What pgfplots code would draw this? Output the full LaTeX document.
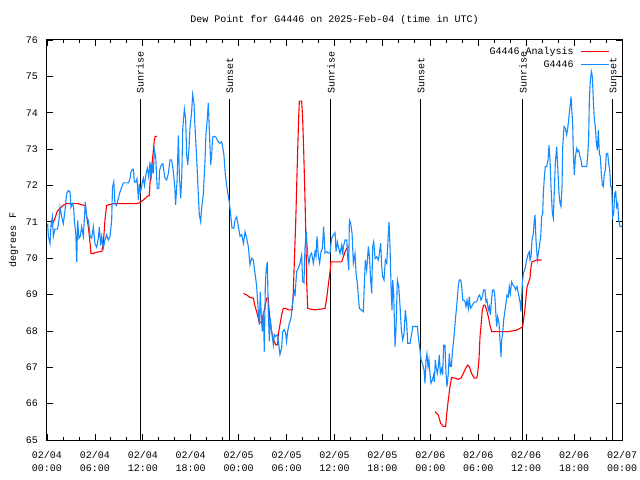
\documentclass[border=0pt]{standalone}
\usepackage{pgfplots}
\pgfplotsset{compat=1.18}
\usepackage{fontspec}
\setmainfont{Liberation Mono}
\usetikzlibrary{calc}
\definecolor{obsblue}{RGB}{20,138,255}
\definecolor{anared}{RGB}{255,0,0}
\newcommand{\gf}{\fontsize{10.04}{12}\selectfont}
\begin{document}
\begin{tikzpicture}
\begin{axis}[
  scale only axis, width=575bp, height=400bp,
  xmin=0, xmax=72, ymin=65, ymax=76,
  xtick={0,6,...,72},
  xticklabels={{02/04\\00:00},{02/04\\06:00},{02/04\\12:00},{02/04\\18:00},{02/05\\00:00},{02/05\\06:00},{02/05\\12:00},{02/05\\18:00},{02/06\\00:00},{02/06\\06:00},{02/06\\12:00},{02/06\\18:00},{02/07\\00:00}},
  minor x tick num=2,
  ytick={65,66,...,76},
  tick align=inside,
  major tick length=6bp, minor tick length=3bp,
  axis line style={line width=1bp, black},
  every tick/.style={black, line width=0.8bp},
  /pgf/number format/assume math mode=true,
  tick label style={font=\gf},
  xticklabel style={align=center, font=\fontsize{10.04}{13.5}\selectfont, inner sep=0pt, yshift=-11bp},
  yticklabel style={inner sep=0pt, xshift=-9bp},
  title={Dew Point for G4446 on 2025-Feb-04 (time in UTC)},
  title style={font=\gf, at={(rel axis cs:0.5,1)}, anchor=base, yshift=12bp},
  ylabel={degrees F},
  ylabel style={font=\gf},
  ylabel shift=4bp,
  legend style={at={(rel axis cs:1,1)}, anchor=north east, xshift=-12bp, yshift=-6bp,
    draw=none, fill=none, inner sep=0pt, font=\gf, row sep=3bp,
    nodes={inner sep=0pt, text height=8bp, text depth=2bp}},
  legend cell align=right, legend plot pos=right,
  legend image code/.code={\path (0bp,0bp); \draw[#1] (7bp,0bp) -- (35bp,0bp);},
  unbounded coords=jump,
]
% sunrise / sunset markers
\addplot[black, line width=1bp, forget plot] coordinates {(11.65,65) (11.65,74.38)};
\addplot[black, line width=1bp, forget plot] coordinates {(22.9,65) (22.9,74.38)};
\addplot[black, line width=1bp, forget plot] coordinates {(35.56,65) (35.56,74.38)};
\addplot[black, line width=1bp, forget plot] coordinates {(46.83,65) (46.83,74.38)};
\addplot[black, line width=1bp, forget plot] coordinates {(59.6,65) (59.6,74.38)};
\addplot[black, line width=1bp, forget plot] coordinates {(70.87,65) (70.87,74.38)};
\node[rotate=90, anchor=west, inner sep=0pt, font=\gf] at (axis cs:11.65,74.52) {Sunrise};
\node[rotate=90, anchor=west, inner sep=0pt, font=\gf] at (axis cs:22.9,74.52) {Sunset};
\node[rotate=90, anchor=west, inner sep=0pt, font=\gf] at (axis cs:35.56,74.52) {Sunrise};
\node[rotate=90, anchor=west, inner sep=0pt, font=\gf] at (axis cs:46.83,74.52) {Sunset};
\node[rotate=90, anchor=west, inner sep=0pt, font=\gf] at (axis cs:59.6,74.52) {Sunrise};
\node[rotate=90, anchor=west, inner sep=0pt, font=\gf] at (axis cs:70.87,74.52) {Sunset};

% analysis
\addplot[anared, line width=1.1bp] coordinates {
(0.58,70.86)(0.7,70.95)(1.0,71.1)(1.3,71.3)(1.8,71.4)(2.0,71.45)(2.46,71.5)(3.92,71.5)(4.3,71.47)(4.76,71.45)(4.97,71.14)(5.18,70.86)(5.4,70.4)(5.5,70.13)(5.85,70.13)(6.0,70.15)(6.6,70.18)(6.85,70.18)(7.05,70.4)(7.26,71.05)(7.46,71.45)(8.3,71.5)(11.23,71.5)(11.65,71.53)(12.06,71.6)(12.57,71.7)(12.8,71.72)(12.9,72.06)(13.03,72.33)(13.2,72.7)(13.32,72.97)(13.44,73.25)(13.55,73.35)(13.8,73.35)
(20,nan)
(24.6,69.03)(25.0,68.99)(25.42,68.92)(25.84,68.9)(26.0,68.72)(26.25,68.53)(26.55,68.26)(26.85,68.22)(27.17,68.53)(27.5,68.9)(27.7,68.9)(27.92,68.26)(28.2,67.9)(28.46,67.71)(28.63,67.62)(28.88,67.62)(28.96,67.9)(29.17,68.17)(29.38,68.44)(29.59,68.62)(29.9,68.62)(30.22,68.58)(30.72,68.58)(30.84,69.04)(30.97,69.9)(31.14,70.96)(31.26,71.93)(31.39,72.98)(31.51,73.85)(31.6,74.32)(31.89,74.32)(32.01,73.85)(32.14,72.98)(32.27,71.93)(32.39,70.87)(32.52,69.32)(32.64,68.62)(33.0,68.6)(33.56,68.58)(34.31,68.6)(34.81,68.62)(35.02,68.9)(35.23,69.27)(35.44,69.63)(35.56,69.9)(36.9,69.9)(37.11,70.04)(37.32,70.18)(37.53,70.27)(37.74,70.32)
(43,nan)
(48.58,65.78)(49.0,65.69)(49.29,65.46)(49.63,65.37)(49.92,65.37)(50.04,65.69)(50.25,66.1)(50.46,66.47)(50.67,66.72)(51.09,66.7)(51.5,66.67)(51.84,66.7)(52.13,66.83)(52.42,66.97)(52.67,67.06)(52.88,67.02)(53.17,66.83)(53.51,66.7)(53.8,66.7)(53.92,66.83)(54.09,67.2)(54.22,67.84)(54.34,68.12)(54.51,68.57)(54.68,68.71)(54.84,68.71)(55.05,68.57)(55.26,68.39)(55.47,68.16)(55.68,67.98)(57.77,67.98)(58.8,68.02)(59.23,68.07)(59.56,68.12)(59.8,68.5)(60.1,69.2)(60.48,69.45)(60.6,69.75)(60.73,69.9)(61.32,69.95)(61.94,69.95)
};
\addlegendentry{G4446 Analysis}

% observations
\addplot[obsblue, line width=1.1bp] coordinates {
(0.08,70.95)(0.17,70.6)(0.38,70.4)(0.5,70.9)(0.67,71.14)(0.8,70.6)(1.0,70.8)(1.33,70.8)(1.5,71.05)(1.63,71.4)(1.84,71.14)(2.04,70.95)(2.25,71.3)(2.46,71.77)(2.67,71.86)(2.88,71.82)(3.0,71.4)(3.17,71.5)(3.34,71.4)(3.42,71.04)(3.6,70.7)(3.72,69.9)(3.84,71.04)(4.0,70.55)(4.17,70.6)(4.34,70.86)(4.55,70.6)(4.67,71.04)(4.8,71.55)(4.97,71.14)(5.18,71.04)(5.4,70.6)(5.6,70.55)(5.8,70.86)(6.0,70.4)(6.22,70.3)(6.43,70.55)(6.55,70.86)(6.72,70.35)(6.85,70.6)(7.05,70.27)(7.26,70.5)(7.47,70.64)(7.68,70.5)(7.9,70.6)(8.1,71.05)(8.2,71.95)(8.37,72.1)(8.5,71.5)(8.7,71.45)(8.93,71.64)(9.14,71.82)(9.35,71.95)(9.56,72.07)(10.0,72.07)(10.2,72.07)(10.4,72.18)(10.5,72.36)(10.68,72.45)(10.81,72.45)(10.94,72.09)(11.1,72.09)(11.27,72.18)(11.45,71.6)(11.56,72.05)(11.69,71.82)
(11.77,71.87)(11.9,72.05)(12.06,72.2)(12.2,72.0)(12.4,72.33)(12.57,72.47)(12.74,72.24)(12.9,72.65)(13.03,72.15)(13.15,72.6)(13.3,72.33)(13.45,72.97)(13.62,72.75)(13.8,71.92)(14.0,71.92)(14.1,72.42)(14.3,72.56)(14.5,72.6)(14.77,72.2)(14.98,72.15)(15.2,72.33)(15.4,72.7)(15.6,72.7)(15.8,72.42)(16.0,71.96)(16.1,71.47)(16.28,72.1)(16.45,73.38)(16.57,72.3)(16.74,71.65)(16.87,72.2)(17.0,73.56)(17.2,74.1)(17.36,73.84)(17.49,72.85)(17.62,72.57)(17.78,73.02)(17.9,73.56)(18.1,74.0)(18.24,74.5)(18.4,74.27)(18.5,73.75)(18.74,72.75)(18.95,71.74)(19.07,71.2)(19.24,71.0)(19.36,71.38)(19.57,71.74)(19.78,72.65)(19.9,73.38)(20.07,73.84)(20.2,74.27)(20.32,73.56)(20.5,72.57)(20.62,72.85)(20.74,73.33)(20.9,73.35)(21.15,73.33)(21.45,73.2)(21.65,73.16)(21.86,73.2)(21.99,73.07)(22.15,72.85)(22.33,72.3)(22.5,72.0)(22.67,71.74)(22.82,71.56)(23.0,71.2)(23.16,70.83)(23.4,70.83)
(23.54,71.05)(23.75,71.14)(23.96,70.87)(24.17,70.6)(24.38,70.65)(24.6,70.41)(24.8,70.73)(25.0,70.55)(25.21,70.32)(25.42,69.82)(25.63,70.0)(25.84,69.95)(25.96,69.72)(26.13,69.45)(26.25,69.22)(26.38,68.8)(26.46,68.53)(26.59,68.17)(26.71,69.07)(26.84,68.35)(26.96,67.98)(27.09,68.53)(27.21,67.43)(27.34,69.27)(27.46,69.72)(27.59,69.9)(27.71,68.53)(27.84,67.71)(27.96,68.35)(28.13,67.98)(28.34,67.62)(28.46,67.9)(28.63,67.85)(28.88,67.9)(29.05,67.57)(29.17,67.35)(29.38,67.53)(29.51,67.98)(29.72,68.03)(29.88,67.94)(30.0,67.71)(30.13,67.98)(30.3,68.17)(30.55,68.35)(30.72,68.72)(30.88,69.04)(30.97,69.09)(31.05,68.95)(31.26,69.63)(31.47,69.72)(31.68,69.86)(31.89,70.09)(32.01,69.36)(32.18,69.32)(32.3,70.27)(32.47,70.73)(32.64,70.09)(32.8,69.86)(32.97,70.09)(33.14,70.14)(33.35,69.86)(33.56,70.18)(33.68,70.05)(33.81,70.6)(33.98,70.05)(34.14,69.86)(34.31,70.18)(34.48,70.27)(34.64,70.87)(34.81,70.14)(35.02,70.18)(35.23,70.14)(35.44,70.14)(35.56,70.41)
(35.65,70.55)(35.86,70.64)(36.07,70.7)(36.19,70.18)(36.36,70.45)(36.48,70.32)(36.69,70.13)(36.9,70.36)(37.03,70.09)(37.11,70.32)(37.32,70.5)(37.53,70.5)(37.65,70.04)(37.78,69.67)(37.86,71.05)(38.03,70.96)(38.2,70.68)(38.36,69.86)(38.57,70.13)(38.7,69.58)(38.86,69.31)(38.99,68.94)(39.11,68.62)(39.4,68.57)(39.61,68.53)(39.74,69.31)(39.86,69.95)(40.03,69.67)(40.24,70.32)(40.37,70.04)(40.53,69.4)(40.66,69.03)(40.78,70.32)(40.91,70.45)(41.08,69.99)(41.28,70.04)(41.49,69.95)(41.62,70.13)(41.78,70.41)(41.91,69.77)(42.03,69.49)(42.2,69.4)(42.37,69.95)(42.54,69.86)(42.7,70.5)(42.83,71.0)(42.95,70.32)(43.08,69.22)(43.2,68.57)(43.29,69.4)(43.41,69.03)(43.58,67.57)(43.7,68.03)(43.87,69.4)(44.04,69.22)(44.21,68.67)(44.37,68.03)(44.54,67.75)(44.71,67.93)(44.87,68.57)(45.04,68.21)(45.17,67.66)(45.46,67.66)(45.67,67.93)(45.79,68.12)(46.08,68.12)(46.38,68.12)(46.54,67.75)(46.71,67.47)(46.84,67.2)(47.0,67.11)(47.21,66.93)
(47.33,66.56)(47.46,67.2)(47.58,67.38)(47.71,67.02)(47.83,67.2)(47.96,66.79)(48.08,66.56)(48.25,66.65)(48.42,66.79)(48.5,66.6)(48.62,67.2)(48.75,66.97)(48.87,66.83)(49.0,67.02)(49.12,67.34)(49.25,66.83)(49.42,66.97)(49.54,66.79)(49.67,67.61)(49.83,67.61)(49.96,66.83)(50.08,66.47)(50.25,66.83)(50.38,67.38)(50.5,67.02)(50.63,67.02)(50.75,67.38)(50.88,67.66)(51.0,67.93)(51.17,68.39)(51.3,68.67)(51.42,69.03)(51.5,69.22)(51.63,69.4)(51.8,69.4)(51.92,69.26)(52.05,68.85)(52.21,68.85)(52.34,68.8)(52.46,68.67)(52.59,68.85)(52.76,68.62)(52.88,68.94)(53.01,68.62)(53.17,68.67)(53.38,68.76)(53.59,68.8)(53.8,68.8)(54.01,68.94)(54.18,68.99)(54.34,68.85)(54.51,68.94)(54.68,69.13)(54.84,69.13)(54.97,68.8)(55.09,68.85)(55.26,68.57)(55.39,68.67)(55.51,68.44)(55.68,68.9)(55.8,69.13)(55.93,69.13)(56.05,69.03)(56.18,68.57)(56.3,68.12)(56.43,68.39)(56.6,68.21)(56.72,67.75)(56.85,67.29)(56.93,67.75)(57.06,67.93)(57.18,68.3)(57.35,68.57)(57.47,68.76)(57.6,68.99)(57.77,68.94)(57.89,69.22)(58.02,69.03)(58.18,69.35)(58.35,69.26)(58.52,69.22)(58.68,69.13)(58.85,69.22)(59.02,69.03)(59.23,68.8)(59.35,68.53)(59.52,69.31)(59.65,69.58)
(59.86,69.72)(60.06,69.95)(60.27,70.13)(60.4,70.18)(60.48,69.95)(60.61,70.04)(60.73,70.5)(60.9,70.68)(61.02,71.05)(61.11,71.19)(61.23,70.5)(61.4,69.95)(61.53,70.13)(61.65,70.32)(61.82,70.59)(61.94,71.14)(62.07,71.23)(62.15,71.78)(62.28,72.24)(62.4,72.52)(62.57,72.52)(62.74,72.7)(62.86,73.11)(62.99,72.7)(63.11,71.97)(63.28,71.23)(63.4,71.1)(63.53,71.87)(63.65,72.61)(63.82,73.07)(63.95,72.52)(64.11,71.78)(64.24,71.51)(64.36,71.42)(64.49,71.97)(64.57,73.02)(64.74,73.62)(64.91,73.57)(65.07,73.39)(65.2,73.57)(65.32,73.8)(65.49,74.17)(65.62,74.44)(65.7,74.12)(65.82,73.71)(65.91,72.88)(66.03,72.29)(66.16,72.79)(66.33,73.02)(66.45,72.93)(66.58,72.97)(66.74,72.79)(66.87,72.7)(66.99,72.52)(67.16,72.52)(67.37,72.52)(67.58,72.52)(67.7,72.79)(67.83,73.34)(67.91,74.35)(68.04,74.9)(68.16,75.13)(68.29,74.99)(68.41,74.35)(68.54,73.8)(68.66,73.62)(68.79,73.16)(68.91,72.97)(69.04,73.52)(69.16,72.88)(69.29,72.79)(69.41,72.33)(69.54,72.01)(69.66,71.97)(69.79,72.33)(69.92,72.42)(70.04,72.88)(70.21,72.88)(70.33,72.61)(70.46,72.42)(70.58,71.97)(70.71,71.97)(70.83,71.14)(70.96,71.23)(71.08,71.78)(71.21,71.83)(71.33,71.42)(71.46,71.51)(71.58,71.05)(71.75,70.87)(72.0,70.87)
};
\addlegendentry{G4446}
\end{axis}
\pgfresetboundingbox
\path ($(current axis.south west)+(-47bp,-40bp)$) rectangle ($(current axis.north east)+(18bp,40bp)$);
\end{tikzpicture}
\end{document}
